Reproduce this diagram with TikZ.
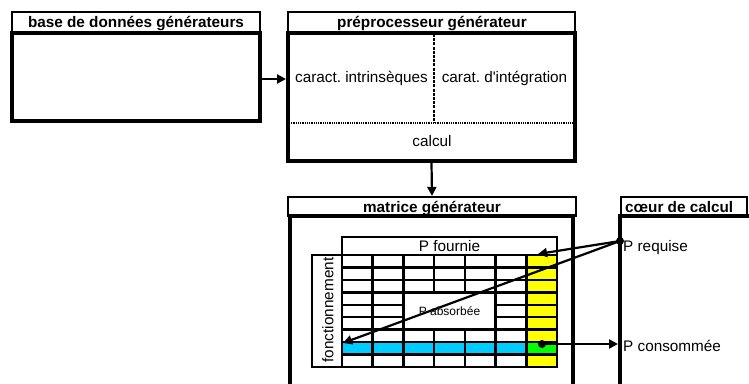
\documentclass[tikz,border=0pt]{standalone}
\usepackage{fontspec}
\setmainfont{Liberation Sans}
\newfontfamily\plainapos{Liberation Sans}
\frenchspacing
\usetikzlibrary{arrows.meta}
\definecolor{ylw}{RGB}{255,255,0}
\definecolor{cyn}{RGB}{0,204,255}
\definecolor{grn}{RGB}{0,255,0}
\begin{document}
\begin{tikzpicture}[x=1pt,y=-1pt,
  titlebox/.style={draw, line width=2.2pt, inner sep=0pt},
  bodybox/.style={draw, line width=4pt, inner sep=0pt},
  ttxt/.style={inner sep=0pt, anchor=base, font=\bfseries\fontsize{15.3}{18}\selectfont},
  lbl/.style={inner sep=0pt, anchor=base, font=\fontsize{15.3}{18}\selectfont},
  conn/.style={line width=2.2pt, -{Triangle[length=9pt,width=9pt]}},
  gline/.style={line width=2.5pt},
  dot/.style={circle, fill=black, inner sep=0pt, minimum size=8pt}]
\useasboundingbox (0,0) rectangle (749,383);
\clip (0,0) rectangle (749,383);

% box 1
\node[titlebox, minimum width=248pt, minimum height=21pt] (t1) at (136,22.5) {};
\node[ttxt] (t1txt) at (136,27.5) {base de données générateurs};
\node[bodybox, minimum width=248pt, minimum height=88pt] (b1) at (136,77) {};

% box 2
\node[titlebox, minimum width=287pt, minimum height=21pt] (t2) at (431.5,22.5) {};
\node[ttxt] (t2txt) at (432,27.5) {préprocesseur générateur};
\node[bodybox, minimum width=287pt, minimum height=128pt] (b2) at (431.5,97) {};
\coordinate (dv1) at (434,34);
\coordinate (dv2) at (434,123);
\draw[line width=2.2pt, dash pattern=on 3pt off 1.2pt] (dv1) -- (dv2);
\coordinate (dh1) at (289,123);
\coordinate (dh2) at (574,123);
\draw[line width=1.6pt, dash pattern=on 0.9pt off 0.9pt] (dh1) -- (dh2);
\node[lbl] (ci) at (361.5,82) {caract. intrinsèques};
\node[lbl] (cd) at (504.5,82) {carat. d{\plainapos'}intégration};
\node[lbl] (calc) at (432,146.5) {calcul};

% box 3
\node[titlebox, minimum width=288pt, minimum height=19pt] (t3) at (432,206.5) {};
\node[ttxt] (t3txt) at (432,212) {matrice générateur};
\node[bodybox, minimum width=283pt, minimum height=204pt] (b3) at (431.5,318) {};

% box 4
\node[titlebox, minimum width=126pt, minimum height=19pt] (t4) at (684,206.5) {};
\node[ttxt, anchor=base west] (t4txt) at (625,212) {cœur de calcul};
\node[bodybox, minimum width=160pt, minimum height=204pt] (b4) at (700,318) {};

% grid fills
\fill[ylw] (526.3,255) rectangle (557,367);
\fill[cyn] (342,342.1) rectangle (526.3,354.6);
\fill[grn] (526.3,342.1) rectangle (557,354.6);
% grid lines
\foreach \i in {0,...,7} {
  \draw[gline] ({342+\i*30.714},255) -- ({342+\i*30.714},367);
}
\foreach \j in {1,...,8} {
  \draw[gline] (342,{255+\j*12.444}) -- (557,{255+\j*12.444});
}
\draw[gline] (312,255) rectangle (557,367);
\node[draw, gline, inner sep=0pt, minimum width=215pt, minimum height=18pt] (pf) at (449.5,246) {};
\node[lbl] (pftxt) at (449.5,251.5) {P fournie};
\node[draw, gline, fill=white, inner sep=0pt, minimum width=92.1pt, minimum height=37.3pt] (pa) at (449.5,311) {};
\node[inner sep=0pt, anchor=base, font=\fontsize{12}{14}\selectfont] (patxt) at (449.5,315) {P absorbée};
\node[inner sep=0pt, rotate=90, font=\fontsize{15.3}{18}\selectfont] (fn) at (328,310) {fonctionnement};

% connectors
\draw[conn] ([yshift=-2pt]b1.east) -- ([yshift=-2pt]b1.east -| b2.west);
\draw[conn] (b2.south) -- (t3.north);

\node[dot] (req) at (620,241) {};
\node[lbl, anchor=base west] (reqtxt) at (623,251) {P requise};
\coordinate (tipA) at (538,254);
\coordinate (tipB) at (343,343);
\draw[conn] (req.center) -- (tipA);
\draw[conn] (req.center) -- (tipB);

\node[dot] (cons) at (542,344) {};
\coordinate (consin) at (618,344);
\draw[conn] (cons.center) -- (consin);
\node[lbl, anchor=base west] (constxt) at (623,351) {P consommée};
\end{tikzpicture}
\end{document}
